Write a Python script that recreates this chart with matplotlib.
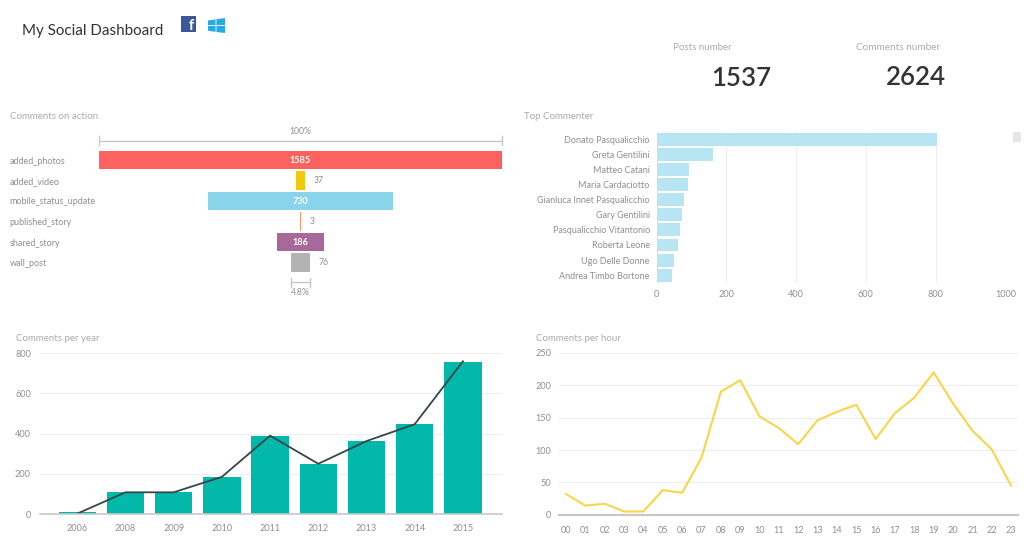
import numpy as np
import matplotlib
matplotlib.use("Agg")
import matplotlib.pyplot as plt
from matplotlib.patches import Rectangle, Polygon

plt.rcParams['font.family'] = ['Lato', 'DejaVu Sans']

W, H = 1024, 541

actions = ["added_photos", "added_video", "mobile_status_update", "published_story", "shared_story", "wall_post"]
action_vals = [1585, 37, 730, 3, 186, 76]
action_cols = ["#fd625e", "#f2c80f", "#8ad4eb", "#fe9666", "#a66999", "#b3b3b3"]

commenters = ["Donato Pasqualicchio", "Greta Gentilini", "Matteo Catani", "Maria Cardaciotto",
              "Gianluca Innet Pasqualicchio", "Gary Gentilini", "Pasqualicchio Vitantonio",
              "Roberta Leone", "Ugo Delle Donne", "Andrea Timbo Bortone"]
commenter_vals = [803, 162, 93, 91, 77, 72, 68, 62, 51, 45]

years = ["2006", "2008", "2009", "2010", "2011", "2012", "2013", "2014", "2015"]
year_vals = [8, 108, 108, 185, 390, 250, 363, 447, 757]
year_line = [2, 108, 108, 185, 390, 250, 363, 447, 760]

hours = ["%02d" % h for h in range(24)]
hour_vals = [32, 14, 17, 5, 5, 38, 34, 88, 190, 208, 152, 134, 109, 146, 159, 170,
             117, 157, 181, 220, 172, 130, 101, 45]

GREY = "#8f8f8f"
TITLE = "#ababab"
GRID = "#eeeeee"


def px_axes(x0, y0, x1, y1):
    # axes from pixel box, y measured from the top
    ax = fig.add_axes([x0 / W, 1 - y1 / H, (x1 - x0) / W, (y1 - y0) / H])
    ax.patch.set_alpha(0)
    for s in ax.spines.values():
        s.set_visible(False)
    ax.tick_params(length=0, colors=GREY, labelsize=6.6)
    return ax


fig = plt.figure(figsize=(W / 100, H / 100), dpi=100)

# page level texts and icons, in pixels
page = fig.add_axes([0, 0, 1, 1])
page.set_xlim(0, W)
page.set_ylim(H, 0)
page.axis("off")

page.text(22, 31, "My Social Dashboard", fontsize=10.9, color="#333333", va="center", ha="left")
page.text(673, 47.5, "Posts number", fontsize=7, color=TITLE, va="center")
page.text(856, 47, "Comments number", fontsize=7.2, color=TITLE, va="center")
page.text(741.5, 78, "1537", fontsize=18.6, color="#333333", va="center", ha="center", fontweight="semibold")
page.text(915.5, 77.5, "2624", fontsize=18.6, color="#333333", va="center", ha="center", fontweight="semibold")
page.text(9.5, 116.7, "Comments on action", fontsize=7, color=TITLE, va="center")
page.text(524, 116.7, "Top Commenter", fontsize=7, color=TITLE, va="center")
page.text(16.5, 338.7, "Comments per year", fontsize=7, color=TITLE, va="center")
page.text(536, 338.2, "Comments per hour", fontsize=7, color=TITLE, va="center")

# facebook and windows icons
page.add_patch(Rectangle((181, 16), 15, 16, color="#3b5998", lw=0))
page.text(191, 25.5, "f", fontsize=10.5, color="white", fontweight="bold", ha="center", va="center")
for pts in [[(208, 20.5), (215.6, 19.4), (215.6, 25.2), (208, 25.2)],
            [(216.4, 19.2), (225, 18), (225, 25.2), (216.4, 25.2)],
            [(208, 26), (215.6, 26), (215.6, 31.8), (208, 30.8)],
            [(216.4, 26), (225, 26), (225, 33), (216.4, 32)]]:
    page.add_patch(Polygon(pts, color="#29aae3", lw=0))

# funnel
ax = px_axes(99, 130, 502, 300)
half = action_vals[0] / 2
ax.set_xlim(-half, half)
ax.set_ylim((300 - 160) / 20.5, (130 - 160) / 20.5)
ax.barh(range(len(actions)), action_vals, height=0.9, left=[-v / 2 for v in action_vals],
        color=action_cols, edgecolor="none")
ax.set_xticks([])
ax.set_yticks(range(len(actions)))
ax.set_yticklabels(actions, ha="left", fontsize=6.5)
ax.tick_params(axis="y", pad=64.4)
for i, v in enumerate(action_vals):
    if v > 100:
        ax.text(0, i + 0.02, str(v), color="white", fontsize=6.6, fontweight="bold", ha="center", va="center")
    else:
        ax.annotate(str(v), (v / 2, i), xytext=(6, 0), textcoords="offset points", color=GREY, fontsize=6.2,
                    ha="left", va="center")
# brackets above and below
ax.plot([-half, half], [-0.93, -0.93], color="#c8c8c8", lw=1.0)
ax.plot([-half, -half], [-1.15, -0.71], color="#c8c8c8", lw=1.0, clip_on=False)
ax.plot([half, half], [-1.15, -0.71], color="#c8c8c8", lw=1.0, clip_on=False)
ax.text(0, -1.4, "100%", color=GREY, fontsize=6.2, ha="center", va="center")
w = action_vals[-1] / 2
ax.plot([-w, w], [5.97, 5.97], color="#c8c8c8", lw=1.0)
ax.plot([-w, -w], [5.75, 6.2], color="#c8c8c8", lw=1.0)
ax.plot([w, w], [5.75, 6.2], color="#c8c8c8", lw=1.0)
ax.text(0, 6.47, "4.8%", color=GREY, fontsize=6.2, ha="center", va="center")

# top commenter
ax = px_axes(656.7, 132, 1005.3, 283)
ax.set_xlim(0, 1000)
ax.set_ylim((283 - 139.3) / 15.1, (132 - 139.3) / 15.1)
ax.set_axisbelow(True)
ax.grid(axis="x", color=GRID, lw=0.8)
ax.barh(range(len(commenters)), commenter_vals, height=0.86, color="#b8e5f3", edgecolor="none")
ax.axvline(0, color="#d8d8d8", lw=0.8)
ax.set_yticks(range(len(commenters)))
ax.set_yticklabels(commenters, fontsize=6.45)
ax.tick_params(axis="y", pad=5)
ax.set_xticks([0, 200, 400, 600, 800, 1000])
ax.tick_params(axis="x", pad=5.2)
page.add_patch(Rectangle((1012.5, 132), 8.5, 9.5, color="#e6e6e6", lw=0))

# comments per year
ax = px_axes(39.5, 353.3, 502, 514)
x = np.arange(len(years))
ax.set_xlim((39.5 - 77.3) / 48.2, (502 - 77.3) / 48.2)
ax.set_ylim(0, 800)
ax.set_axisbelow(True)
ax.grid(axis="y", color=GRID, lw=0.8)
ax.bar(x, year_vals, width=0.78, color="#01b8aa", edgecolor="none")
ax.plot(x, year_line, color="#374649", lw=1.3)
ax.spines["bottom"].set_visible(True)
ax.spines["bottom"].set_color("#c8c8c8")
ax.spines["bottom"].set_linewidth(1.2)
ax.set_xticks(x)
ax.set_xticklabels(years)
ax.set_yticks([0, 200, 400, 600, 800])
ax.tick_params(axis="x", pad=7.5)
ax.tick_params(axis="y", pad=6.2)

# comments per hour
ax = px_axes(558.7, 353, 1018, 514.7)
x = np.arange(len(hours))
ax.set_xlim((558.7 - 566) / 19.35, (1018 - 566) / 19.35)
ax.set_ylim(0, 250)
ax.set_axisbelow(True)
ax.grid(axis="y", color=GRID, lw=0.8)
ax.plot(x, hour_vals, color="#f8d549", lw=1.5)
ax.spines["bottom"].set_visible(True)
ax.spines["bottom"].set_color("#c8c8c8")
ax.spines["bottom"].set_linewidth(1.6)
ax.set_xticks(x)
ax.set_xticklabels(hours)
ax.set_yticks([0, 50, 100, 150, 200, 250])
ax.tick_params(axis="x", pad=7.8)
ax.tick_params(axis="y", pad=5.5)

fig.savefig("out.png", dpi=100)
